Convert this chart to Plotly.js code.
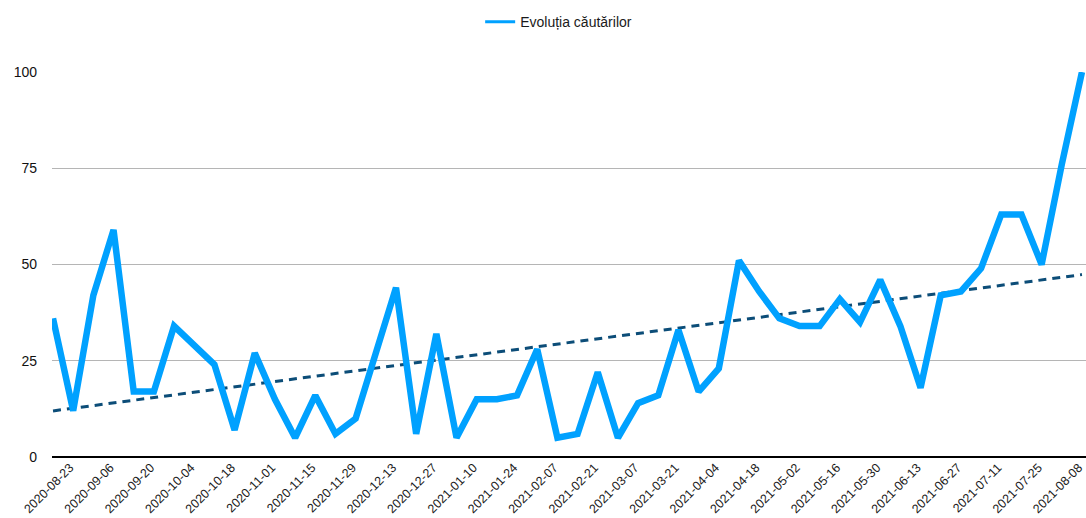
<!DOCTYPE html>
<html>
<head>
<meta charset="utf-8">
<script src="https://cdn.plot.ly/plotly-3.0.1.min.js"></script>
<style>
  html, body { margin: 0; padding: 0; background: #fff; }
  #chart { width: 1086px; height: 518px; }
</style>
</head>
<body>
<div id="chart"></div>
<script>
// weekly search interest
const weeks = [
    '2020-08-23', '2020-08-30', '2020-09-06', '2020-09-13', '2020-09-20', '2020-09-27',
    '2020-10-04', '2020-10-11', '2020-10-18', '2020-10-25', '2020-11-01', '2020-11-08',
    '2020-11-15', '2020-11-22', '2020-11-29', '2020-12-06', '2020-12-13', '2020-12-20',
    '2020-12-27', '2021-01-03', '2021-01-10', '2021-01-17', '2021-01-24', '2021-01-31',
    '2021-02-07', '2021-02-14', '2021-02-21', '2021-02-28', '2021-03-07', '2021-03-14',
    '2021-03-21', '2021-03-28', '2021-04-04', '2021-04-11', '2021-04-18', '2021-04-25',
    '2021-05-02', '2021-05-09', '2021-05-16', '2021-05-23', '2021-05-30', '2021-06-06',
    '2021-06-13', '2021-06-20', '2021-06-27', '2021-07-04', '2021-07-11', '2021-07-18',
    '2021-07-25', '2021-08-01', '2021-08-08', '2021-08-15'
];

const searches = [
    36, 12, 42, 59, 17, 17, 34, 29, 24, 7, 27, 15,
    5, 16, 6, 10, 27, 44, 6, 32, 5, 15, 15, 16,
    28, 5, 6, 22, 5, 14, 16, 33, 17, 23, 51, 43,
    36, 34, 34, 41, 35, 46, 34, 18, 42, 43, 49, 63,
    63, 50, 76, 100
];

const yTicks = [0, 25, 50, 75, 100];
const seriesName = 'Evoluția căutărilor';

// labels only on every second week, like the original
const tickWeeks = weeks.filter((d, i) => i % 2 === 0);

// linear trend (least squares) over the week index
const linearFit = (values) => {
    const n = values.length;
    let sx = 0, sy = 0, sxy = 0, sxx = 0;
    values.forEach((v, i) => {
        sx += i; sy += v; sxy += i * v; sxx += i * i;
    });
    const slope = (n * sxy - sx * sy) / (n * sxx - sx * sx);
    const icept = (sy - slope * sx) / n;
    return values.map((v, i) => icept + slope * i);
};

const trend = linearFit(searches);

const traces = [
    {
        x: weeks,
        y: trend,
        type: 'scatter',
        mode: 'lines',
        line: { color: '#0c4d78', width: 3, dash: '8px,6px' },
        showlegend: false,
        hoverinfo: 'skip'
    },
    {
        x: weeks,
        y: searches,
        type: 'scatter',
        mode: 'lines',
        name: seriesName,
        line: { color: '#00a1ff', width: 6.5 },
        showlegend: false
    },
    {
        // legend swatch only
        x: [null],
        y: [null],
        type: 'scatter',
        mode: 'lines',
        name: seriesName,
        line: { color: '#00a1ff', width: 3 },
        showlegend: true
    }
];

const layout = {
    width: 1086,
    height: 518,
    margin: { l: 52, r: 0, t: 72, b: 61 },
    paper_bgcolor: '#fff',
    plot_bgcolor: '#fff',
    font: { family: '"Liberation Sans", Arial, sans-serif', color: '#000' },
    showlegend: true,
    legend: {
        orientation: 'h',
        x: 0.49,
        xanchor: 'center',
        y: 0.957,
        yanchor: 'middle',
        yref: 'container',
        font: { size: 14, color: '#1a1a1a' },
        itemwidth: 30
    },
    xaxis: {
        type: 'category',
        range: [-0.05, 51.2],
        tickmode: 'array',
        tickvals: tickWeeks,
        ticktext: tickWeeks,
        tickangle: -45,
        tickfont: { size: 12.5, color: '#1a1a1a' },
        ticklabelshift: 17,
        ticklabelstandoff: 0,
        ticks: '',
        showgrid: false,
        zeroline: false,
        showline: false
    },
    yaxis: {
        range: [0, 100],
        tickvals: yTicks,
        tickfont: { size: 14, color: '#111' },
        ticklabelstandoff: 14,
        showgrid: true,
        gridcolor: '#b5b5b5',
        gridwidth: 1,
        zeroline: true,
        zerolinecolor: '#000',
        zerolinewidth: 2,
        showline: false
    }
};

Plotly.newPlot('chart', traces, layout, { displayModeBar: false, staticPlot: true });
</script>
</body>
</html>
